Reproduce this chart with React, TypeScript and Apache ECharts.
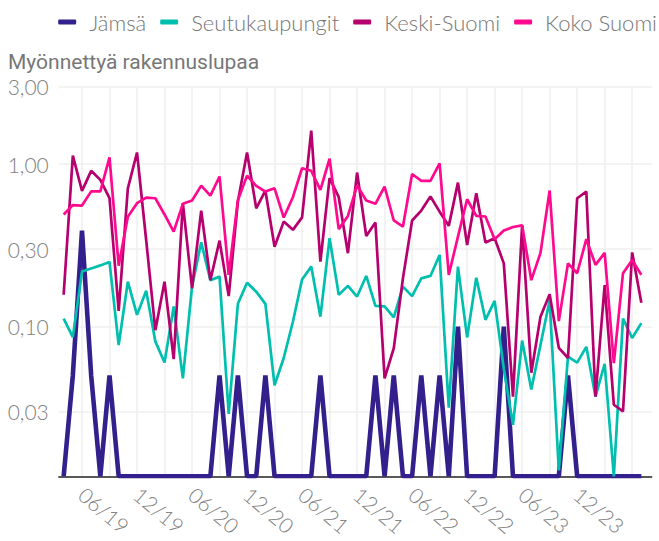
import React, { useEffect, useRef } from "react";
import * as echarts from "echarts";

// ---- data -------------------------------------------------------------
const seriesNames = ["Jämsä", "Seutukaupungit", "Keski-Suomi", "Koko Suomi"];
const seriesColors = ["#33208c", "#00bfae", "#b5006e", "#ff0a8f"];

// months: April 2019 ... July 2024 (64 months)
const firstYear = 2019;
const firstMonth = 4;
const monthCount = 64;
const months: string[] = Array.from({ length: monthCount }, (_, i) => {
  const t = firstMonth - 1 + i;
  const y = firstYear + Math.floor(t / 12);
  const m = (t % 12) + 1;
  return `${y}-${String(m).padStart(2, "0")}`;
});

const jamsa = [
  0, 0.05, 0.39, 0.05, 0, 0.05, 0, 0, 0, 0,
  0, 0, 0, 0, 0, 0, 0, 0.05, 0, 0.05,
  0, 0, 0.05, 0, 0, 0, 0, 0, 0.05, 0,
  0, 0, 0, 0, 0.05, 0, 0.05, 0, 0, 0.05,
  0, 0.05, 0, 0.1, 0, 0, 0, 0, 0.1, 0,
  0, 0, 0, 0, 0, 0.05, 0, 0, 0, 0,
  0, 0, 0, 0,
];
const seutukaupungit = [
  0.112, 0.086, 0.218, 0.228, 0.238, 0.25, 0.077, 0.189, 0.118, 0.166,
  0.081, 0.06, 0.133, 0.048, 0.176, 0.33, 0.193, 0.203, 0.029, 0.138,
  0.186, 0.164, 0.138, 0.0435, 0.064, 0.107, 0.195, 0.234, 0.115, 0.35,
  0.157, 0.178, 0.153, 0.205, 0.134, 0.133, 0.114, 0.176, 0.154, 0.198,
  0.205, 0.276, 0.0316, 0.234, 0.0857, 0.2, 0.11, 0.144, 0.055, 0.0248,
  0.082, 0.041, 0.077, 0.145, 0.013, 0.0653, 0.06, 0.075, 0.037, 0.059,
  0, 0.112, 0.085, 0.105,
];
const keskiSuomi = [
  0.157, 1.13, 0.685, 0.91, 0.8, 0.617, 0.125, 0.71, 1.18, 0.34,
  0.095, 0.189, 0.063, 0.575, 0.172, 0.518, 0.193, 0.338, 0.154, 0.589,
  1.18, 0.535, 0.688, 0.31, 0.443, 0.394, 0.47, 1.61, 0.251, 0.82,
  0.626, 0.283, 0.888, 0.361, 0.437, 0.048, 0.0735, 0.198, 0.45, 0.518,
  0.632, 0.51, 0.417, 0.77, 0.318, 0.662, 0.329, 0.35, 0.245, 0.037,
  0.42, 0.052, 0.115, 0.158, 0.074, 0.064, 0.617, 0.678, 0.037, 0.18,
  0.033, 0.03, 0.286, 0.14,
];
const kokoSuomi = [
  0.49, 0.56, 0.556, 0.68, 0.68, 1.1, 0.237, 0.475, 0.575, 0.623,
  0.617, 0.49, 0.384, 0.57, 0.597, 0.738, 0.64, 0.84, 0.208, 0.6,
  0.85, 0.735, 0.678, 0.71, 0.469, 0.626, 0.944, 0.91, 0.695, 1.08,
  0.398, 0.48, 0.74, 0.597, 0.57, 0.728, 0.45, 0.413, 0.87, 0.79,
  0.79, 1.01, 0.208, 0.358, 0.608, 0.48, 0.476, 0.345, 0.39, 0.41,
  0.42, 0.193, 0.284, 0.688, 0.108, 0.245, 0.213, 0.345, 0.24, 0.284,
  0.0595, 0.213, 0.257, 0.208,
];
const seriesValues = [jamsa, seutukaupungit, keskiSuomi, kokoSuomi];

const yTickValues = [0.03, 0.1, 0.3, 1, 3];
const xTickLabels = ["06/19", "12/19", "06/20", "12/20", "06/21", "12/21", "06/22", "12/22", "06/23", "12/23"];
const xGridFrom = "06/19";
const xGridTo = "06/24";

// ---- helpers ------------------------------------------------------------
// month index: months counted from December 2018 (= 0)
const monthIdxOfLabel = (lbl: string) => {
  const [mm, yy] = lbl.split("/").map(Number);
  return (2000 + yy - firstYear) * 12 + mm;
};
const monthIdxOfCategory = (cat: string) => {
  const [y, m] = cat.split("-").map(Number);
  return (y - firstYear) * 12 + m;
};
const xLabelValues = xTickLabels.map(monthIdxOfLabel);
const xGridValues: number[] = [];
for (let v = monthIdxOfLabel(xGridFrom); v <= monthIdxOfLabel(xGridTo); v += 3) xGridValues.push(v);

const yMinLog = Math.log10(0.01196);
const yMaxLog = Math.log10(3);
const toLog = (v: number) => (v > 0 ? Math.log10(v) : yMinLog);

const LABEL_FONT = "Lato, 'Open Sans', sans-serif";

export default function App() {
  const ref = useRef<HTMLDivElement>(null);
  useEffect(() => {
    document.body.style.margin = "0";
    if (!ref.current) return;
    const chart = echarts.init(ref.current, undefined, { renderer: "svg" });
    const option: any = {
      animation: false,
      backgroundColor: "#ffffff",
      title: {
        text: "Myönnettyä rakennuslupaa",
        left: 8,
        top: 51,
        padding: 0,
        textStyle: { fontFamily: "Roboto", fontSize: 21, fontWeight: "normal", color: "#777777" },
      },
      legend: {
        data: seriesNames,
        right: 2,
        top: 11,
        padding: 0,
        icon: "roundRect",
        itemWidth: 18,
        itemHeight: 5,
        itemGap: 14,
        selectedMode: false,
        textStyle: { fontFamily: LABEL_FONT, fontWeight: 300, fontSize: 22, color: "#777777", padding: [0, 0, 0, 8] },
      },
      grid: { left: 58.8, right: 7.3, top: 86.7, bottom: 64.7, containLabel: false, outerBoundsMode: "none" },
      xAxis: {
        type: "value",
        min: 3.47,
        max: 68.13,
        axisLine: { show: true, onZero: false, lineStyle: { color: "#222222", width: 1.5 } },
        axisTick: { show: false, customValues: xGridValues },
        splitLine: { show: true, lineStyle: { color: "#efefef", width: 1.5 } },
        axisLabel: {
          customValues: xLabelValues,
          rotate: -40,
          margin: 15,
          fontFamily: LABEL_FONT,
          fontWeight: 300,
          fontSize: 21,
          color: "#808080",
          formatter: (v: number) => {
            const k = xLabelValues.indexOf(Math.round(v));
            return k >= 0 ? xTickLabels[k] : "";
          },
        },
      },
      yAxis: {
        type: "value",
        min: yMinLog,
        max: yMaxLog,
        axisLine: { show: false },
        axisTick: { show: false, customValues: yTickValues.map(Math.log10) },
        splitLine: { show: true, lineStyle: { color: "#efefef", width: 1.5 } },
        axisLabel: {
          customValues: yTickValues.map(Math.log10),
          margin: 10,
          fontFamily: LABEL_FONT,
          fontWeight: 300,
          fontSize: 21,
          color: "#808080",
          formatter: (v: number) => Math.pow(10, v).toFixed(2).replace(".", ","),
        },
      },
      series: seriesNames.map((name, s) => ({
        name,
        type: "line",
        data: months.map((cat, i) => [monthIdxOfCategory(cat), toLog(seriesValues[s][i])]),
        showSymbol: false,
        symbol: "none",
        clip: true,
        color: seriesColors[s],
        lineStyle: { color: seriesColors[s], width: s === 0 ? 4.6 : 2.7 },
        emphasis: { disabled: true },
        z: 2 + s,
      })),
    };
    chart.setOption(option);
    return () => chart.dispose();
  }, []);
  return <div ref={ref} style={{ width: 659, height: 541 }} />;
}
